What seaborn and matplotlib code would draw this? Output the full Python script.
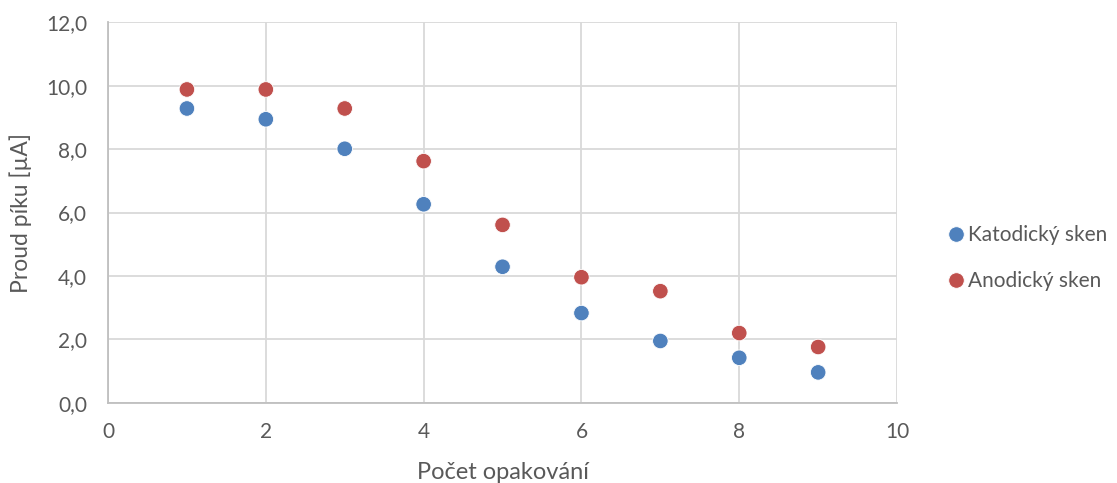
import pandas as pd
import numpy as np
import matplotlib.pyplot as plt
import seaborn as sns
from matplotlib.ticker import FuncFormatter

# hodnoty
opakovani = [1, 2, 3, 4, 5, 6, 7, 8, 9]
katodicky = [9.28, 8.94, 8.01, 6.26, 4.29, 2.83, 1.95, 1.42, 0.96]
anodicky = [9.88, 9.88, 9.28, 7.62, 5.61, 3.96, 3.52, 2.20, 1.76]
serie = ['Katodický sken', 'Anodický sken']

df = pd.concat([
    pd.DataFrame({'x': opakovani, 'y': katodicky, 'serie': serie[0]}),
    pd.DataFrame({'x': opakovani, 'y': anodicky, 'serie': serie[1]}),
])

sns.set_theme(style="white")
plt.rcParams['font.family'] = ['Lato', 'DejaVu Sans']

fig = plt.figure(figsize=(11.17, 4.83), dpi=100)
ax = fig.add_axes([0.0967, 0.166, 0.7064, 0.788])

sns.scatterplot(data=df, x='x', y='y', hue='serie', hue_order=serie,
                palette=['#4F81BD', '#C0504D'], s=125, edgecolor='white',
                linewidth=0.6, ax=ax, zorder=3)

ax.set_xlim(0, 10)
ax.set_ylim(0, 12)
ax.set_xticks(np.arange(0, 11, 2))
ax.set_yticks(np.arange(0, 13, 2))
ax.yaxis.set_major_formatter(FuncFormatter(lambda v, p: f'{v:.1f}'.replace('.', ',')))
ax.grid(True, color='#D9D9D9', linewidth=1.3)
ax.set_axisbelow(True)
for side in ['top', 'right']:
    ax.spines[side].set_visible(False)
for side in ['left', 'bottom']:
    ax.spines[side].set_color('#BFBFBF')
    ax.spines[side].set_linewidth(1.3)
ax.tick_params(axis='both', length=0, labelsize=15, colors='#595959')
ax.tick_params(axis='y', pad=15)
ax.tick_params(axis='x', pad=14)
ax.set_xlabel('Počet opakování', fontsize=17, color='#595959', labelpad=14)
ax.set_ylabel('Proud píku [µA]', fontsize=16.5, color='#595959', labelpad=10)

ax.legend(loc='center left', bbox_to_anchor=(1.04, 0.38), frameon=False,
          fontsize=15, handlelength=0.8, handletextpad=0.2, labelspacing=1.25,
          markerscale=1.0, labelcolor='#595959')

fig.savefig('out.png', dpi=100)
